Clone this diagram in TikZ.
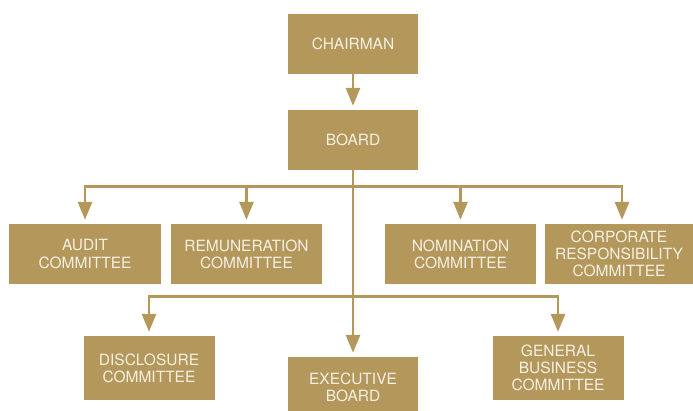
\documentclass[tikz,border=0pt]{standalone}
\usepackage{fontspec}
\setmainfont{TeX Gyre Heros}
\usetikzlibrary{arrows.meta}
\definecolor{gold}{RGB}{179,151,91}
\definecolor{txt}{RGB}{246,240,228}
\begin{document}
\begin{tikzpicture}[x=1pt,y=-1pt,
  box/.style={fill=gold,text=txt,minimum width=#1,minimum height=60pt,inner sep=0pt,
    align=center,font=\fontsize{15.5}{17.2}\selectfont},
  box/.default=130pt,
  link/.style={draw=gold,line width=2.8pt},
  arr/.style={link,-{Triangle[width=14pt,length=18pt]},shorten >=4pt}]
\useasboundingbox (0,0) rectangle (693,410);
\node[box] (chair) at (353,44) {CHAIRMAN};
\node[box] (board) at (353,140) {BOARD};
\node[box=152pt] (audit) at (85,254) {AUDIT\\COMMITTEE};
\node[box=151pt] (remun) at (246.5,254) {REMUNERATION\\COMMITTEE};
\node[box=151pt] (nomin) at (460.5,254) {NOMINATION\\COMMITTEE};
\node[box=148pt] (corp) at (619,254) {CORPORATE\\RESPONSIBILITY\\COMMITTEE};
\node[box=131pt,minimum height=64pt] (discl) at (149,368) {DISCLOSURE\\COMMITTEE};
\node[box] (exec) at (353,387) {EXECUTIVE\\BOARD};
\node[box=131pt,minimum height=64pt] (gen) at (558,368) {GENERAL\\BUSINESS\\COMMITTEE};
\path (board.south) ++(0,16) coordinate (bus1);
\path (board.south) ++(0,126) coordinate (bus2);
\draw[arr] (chair) -- (board);
\draw[arr] (board.south) -- (exec.north);
\draw[arr] (bus1) -| (audit.north);
\draw[arr] (bus1) -| (remun.north);
\draw[arr] (bus1) -| (nomin.north);
\draw[arr] (bus1) -| ([xshift=3pt]corp.north);
\draw[arr] (bus2) -| (discl.north);
\draw[arr] (bus2) -| (gen.north);
\end{tikzpicture}
\end{document}
